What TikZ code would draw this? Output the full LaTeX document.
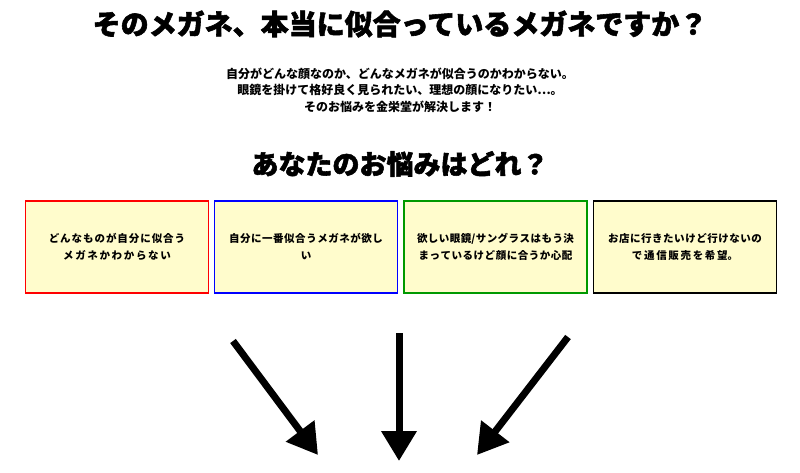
\documentclass[tikz,border=0pt]{standalone}
\usepackage{fontspec}
\setmainfont{Noto Sans CJK JP}
\newfontfamily\heavy{Noto Sans CJK JP}[FakeBold=2]
\XeTeXlinebreaklocale "ja"
\XeTeXlinebreakskip=0pt plus 1pt
\usetikzlibrary{arrows.meta}
\tikzset{
 card/.style={draw, line width=1.6pt, fill=yellow!20, minimum width=183pt, minimum height=92pt, align=center, font=\fontsize{10.5pt}{17pt}\selectfont\bfseries, text width=176pt},
 bigarrow/.style={line width=7pt, -{Triangle[width=34pt,length=30pt]}}
}
\begin{document}
\begin{tikzpicture}[x=1pt,y=-1pt]
\useasboundingbox (0,0) rectangle (800,473);
\node[font=\fontsize{28pt}{32pt}\selectfont\heavy\bfseries] (title) at (400,24) {そのメガネ、本当に似合っているメガネですか？};
\node[align=center, font=\fontsize{12pt}{16.5pt}\selectfont\bfseries] (sub) at (400,90) {自分がどんな顔なのか、どんなメガネが似合うのかわからない。\\眼鏡を掛けて格好良く見られたい、理想の顔になりたい…。\\そのお悩みを金栄堂が解決します！};
\node[font=\fontsize{27pt}{30pt}\selectfont\heavy\bfseries] (q) at (400,164) {あなたのお悩みはどれ？};
\node[card, draw=red] (b1) at (117,247) {どんなものが自分に似合う\\メガネかわからない};
\node[card, draw=blue] (b2) at (306,247) {自分に一番似合うメガネが欲し\\い};
\node[card, draw=green!60!black] (b3) at (495.5,247) {欲しい眼鏡/サングラスはもう決\\まっているけど顔に合うか心配};
\node[card, draw=black] (b4) at (685,247) {お店に行きたいけど行けないの\\で通信販売を希望。};
\coordinate (a1s) at (233,341); \coordinate (a1e) at (318,455);
\coordinate (a2s) at (399,333); \coordinate (a2e) at (399,461);
\coordinate (a3s) at (568,337); \coordinate (a3e) at (477,455);
\draw[bigarrow] (a1s) -- (a1e);
\draw[bigarrow] (a2s) -- (a2e);
\draw[bigarrow] (a3s) -- (a3e);
\end{tikzpicture}
\end{document}
